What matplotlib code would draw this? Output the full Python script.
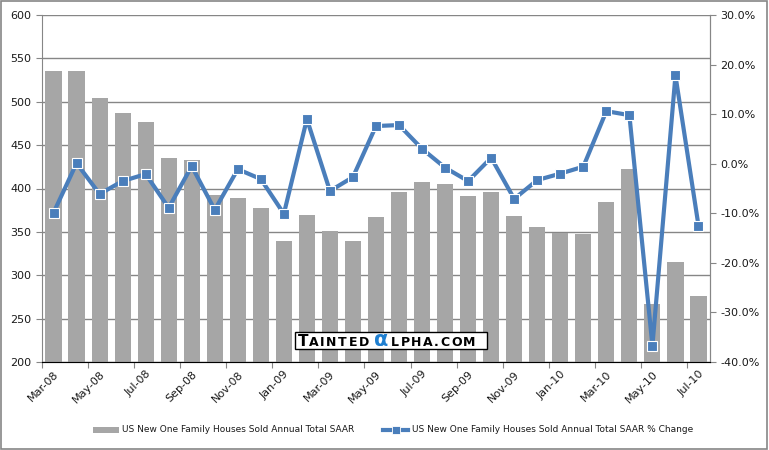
import numpy as np
import matplotlib.pyplot as plt
from matplotlib.patches import Rectangle

months = ['Mar-08', 'Apr-08', 'May-08', 'Jun-08', 'Jul-08', 'Aug-08', 'Sep-08', 'Oct-08',
          'Nov-08', 'Dec-08', 'Jan-09', 'Feb-09', 'Mar-09', 'Apr-09', 'May-09', 'Jun-09',
          'Jul-09', 'Aug-09', 'Sep-09', 'Oct-09', 'Nov-09', 'Dec-09', 'Jan-10', 'Feb-10',
          'Mar-10', 'Apr-10', 'May-10', 'Jun-10', 'Jul-10']

# houses sold, annual total SAAR (thousands)
sold = [535, 536, 504, 487, 477, 435, 433, 392, 389, 377, 339, 369, 351, 340, 367,
        396, 407, 405, 391, 396, 368, 356, 349, 347, 384, 422, 267, 315, 276]

# month over month % change
pct = [-9.9, 0.1, -6.1, -3.5, -2.1, -8.9, -0.5, -9.3, -1.1, -3.1, -10.1, 9.0, -5.5,
       -2.7, 7.6, 7.8, 3.0, -0.8, -3.5, 1.2, -7.1, -3.3, -2.0, -0.6, 10.6, 9.8,
       -36.7, 17.8, -12.5]

left_ticks = [200, 250, 300, 350, 400, 450, 500, 550, 600]
right_ticks = [-40, -30, -20, -10, 0, 10, 20, 30]

BAR_COL = '#a6a6a6'
LINE_COL = '#4a7ebb'
TXT = '#1a1a1a'

plt.rcParams['font.family'] = 'DejaVu Sans'

fig = plt.figure(figsize=(7.69, 4.5), dpi=100)
ax = fig.add_axes([42/769, 88/450, (710-42)/769, (362-15)/450])
x = np.arange(len(months))

ax.bar(x, sold, width=0.7, color=BAR_COL, zorder=2)
ax.set_ylim(200, 600)
ax.set_xlim(-0.5, len(months) - 0.5)
ax.set_yticks(left_ticks)
ax.yaxis.grid(True, color='#868686', lw=1, zorder=0)
ax.set_axisbelow(True)
ax.tick_params(axis='y', labelsize=8, length=4, color='#868686', labelcolor=TXT)

# tick marks at category boundaries, labels at centers
ax.set_xticks(np.arange(-0.5, len(months), 2))
ax.set_xticklabels([])
ax.tick_params(axis='x', which='major', length=4, color='#868686')
ax.set_xticks(x[::2], minor=True)
ax.set_xticklabels(months[::2], minor=True, rotation=45, ha='right',
                   rotation_mode='anchor', fontsize=8, color=TXT)
ax.tick_params(axis='x', which='minor', length=0, pad=5)

ax.spines['top'].set_visible(False)
for s in ['left', 'bottom', 'right']:
    ax.spines[s].set_color('#868686')

ax2 = ax.twinx()
ax2.plot(x, pct, color=LINE_COL, lw=3, marker='s', ms=6.5,
         markeredgecolor='white', markeredgewidth=0.8, zorder=5)
ax2.set_ylim(-40, 30)
ax2.set_yticks(right_ticks)
ax2.set_yticklabels(['%.1f%%' % v for v in right_ticks])
ax2.tick_params(axis='y', labelsize=8, length=4, color='#868686', labelcolor=TXT)
ax2.spines['top'].set_visible(False)
ax2.spines['right'].set_color('#868686')
ax2.spines['left'].set_visible(False)

# watermark box, letters spread out a bit like the logo
fig.patches.append(Rectangle((295/769, 1 - 349/450), 192/769, 17/450,
                             transform=fig.transFigure, facecolor='white',
                             edgecolor='black', lw=1, zorder=10))
base = 1 - 346.5/450
renderer = fig.canvas.get_renderer()

def spaced(s, x0, size, track=1.0, **kw):
    xp = x0
    for ch in s:
        t = fig.text(xp/769, base, ch, fontsize=size, va='baseline', zorder=11,
                     fontweight='semibold', **kw)
        w = t.get_window_extent(renderer).width
        xp += w + track
    return xp

xe = spaced('T', 298, 11, track=0.5)
spaced('AINTED', xe, 9, track=1.6)
fig.text(374/769, base, '\u03b1', fontsize=15, color='#1f7fd0',
         fontweight='bold', va='baseline', zorder=11)
spaced('LPHA.COM', 391, 9, track=1.5)

# legend
ly = 1 - 430/450
fig.patches.append(Rectangle((93/769, ly - 3/450), 26/769, 6/450,
                             transform=fig.transFigure, facecolor=BAR_COL, lw=0))
fig.text(122/769, ly, 'US New One Family Houses Sold Annual Total SAAR',
         fontsize=6.5, va='center', color=TXT)
fig.lines.append(plt.Line2D([383/769, 408/769], [ly, ly], transform=fig.transFigure,
                            color=LINE_COL, lw=3))
fig.lines.append(plt.Line2D([395.5/769], [ly], transform=fig.transFigure,
                            color=LINE_COL, marker='s', ms=5.5,
                            markeredgecolor='white', markeredgewidth=0.6))
fig.text(412/769, ly, 'US New One Family Houses Sold Annual Total SAAR % Change',
         fontsize=6.5, va='center', color=TXT)

# outer border
fig.patches.append(Rectangle((0.001, 0.002), 0.997, 0.996, transform=fig.transFigure,
                             facecolor='none', edgecolor='#868686', lw=1.2))

fig.savefig('out.png', dpi=100)
